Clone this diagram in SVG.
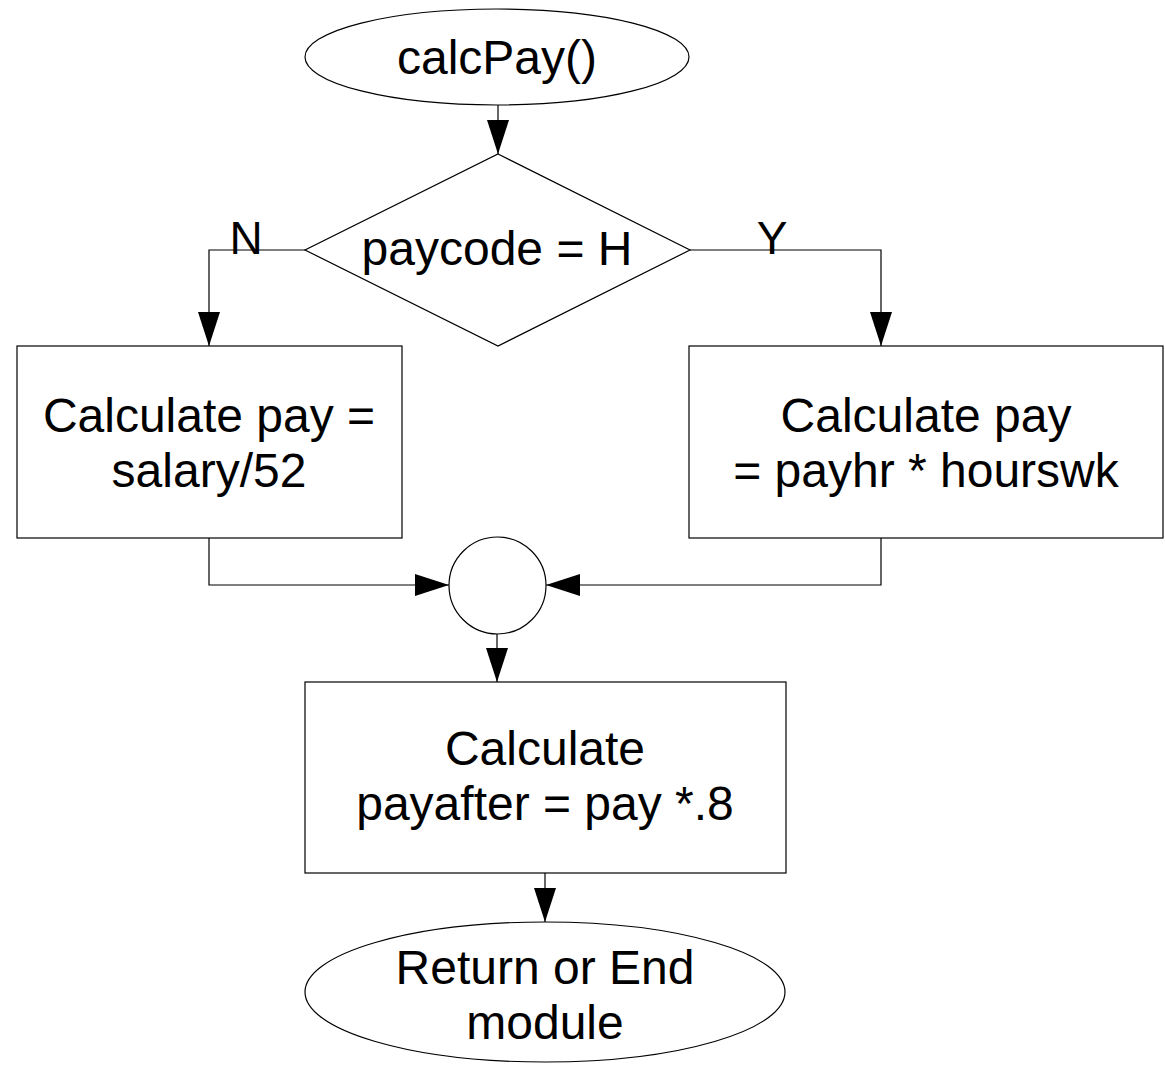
<svg xmlns="http://www.w3.org/2000/svg" width="1165" height="1065" viewBox="0 0 1165 1065">
<style>
.shape{fill:#fff;stroke:#000;stroke-width:1.2}
.line{fill:none;stroke:#000;stroke-width:1.2}
text{font-family:"Liberation Sans",Arial,sans-serif;font-size:48px;fill:#000;text-anchor:middle}
</style>
<defs>
<marker id="arr" markerUnits="userSpaceOnUse" markerWidth="34" markerHeight="22" refX="34" refY="11" orient="auto" viewBox="0 0 34 22">
<path d="M0,0 L34,11 L0,22 z" fill="#000"/>
</marker>
</defs>
<rect width="1165" height="1065" fill="#fff"/>
<g id="connectors">
<path class="line" d="M498,105 V154" marker-end="url(#arr)"/>
<path class="line" d="M305,250 H209 V346" marker-end="url(#arr)"/>
<path class="line" d="M690,250 H881 V346" marker-end="url(#arr)"/>
<path class="line" d="M209,538 V585 H449" marker-end="url(#arr)"/>
<path class="line" d="M881,538 V585 H546" marker-end="url(#arr)"/>
<path class="line" d="M497,634 V682" marker-end="url(#arr)"/>
<path class="line" d="M545,873 V922" marker-end="url(#arr)"/>
<text x="246" y="254" style="font-size:46px">N</text>
<text x="772" y="254" style="font-size:46px">Y</text>
</g>
<g id="start">
<ellipse class="shape" cx="497" cy="57" rx="192" ry="48"/>
<text x="497" y="74">calcPay()</text>
</g>
<g id="decision">
<polygon class="shape" points="498,154 690,250 498,346 305,250"/>
<text x="497" y="265">paycode = H</text>
</g>
<g id="salary">
<rect class="shape" x="17" y="346" width="385" height="192"/>
<text x="209" y="432">Calculate pay =</text>
<text x="209" y="487">salary/52</text>
</g>
<g id="hourly">
<rect class="shape" x="689" y="346" width="474" height="192"/>
<text x="926" y="432">Calculate pay</text>
<text x="926" y="487">= payhr * hourswk</text>
</g>
<g id="join">
<circle class="shape" cx="497.5" cy="585.5" r="48.5"/>
</g>
<g id="payafter">
<rect class="shape" x="305" y="682" width="481" height="191"/>
<text x="545" y="765">Calculate</text>
<text x="545" y="820">payafter = pay *.8</text>
</g>
<g id="end">
<ellipse class="shape" cx="545" cy="992" rx="240" ry="70"/>
<text x="545" y="984">Return or End</text>
<text x="545" y="1039">module</text>
</g>
</svg>
